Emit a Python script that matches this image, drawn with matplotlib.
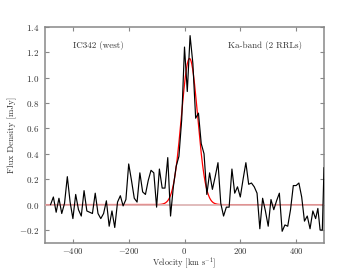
import numpy as np
import matplotlib
matplotlib.use("Agg")
import matplotlib.pyplot as plt

plt.rcParams['font.family'] = ['cmr10', 'DejaVu Serif']
plt.rcParams['mathtext.fontset'] = 'cm'
plt.rcParams['axes.formatter.use_mathtext'] = True
plt.rcParams['axes.unicode_minus'] = True

velocity = [-480, -470, -460, -450, -440, -430, -420, -410, -400, -390,
            -380, -370, -360, -350, -340, -330, -320, -310, -300, -290,
            -280, -270, -260, -250, -240, -230, -220, -210, -200, -190,
            -180, -170, -160, -150, -140, -130, -120, -110, -100, -90,
            -80, -70, -60, -50, -40, -30, -20, -10, 0, 10,
            20, 30, 40, 50, 60, 70, 80, 90, 100, 110,
            120, 130, 140, 150, 160, 170, 180, 190, 200, 210,
            220, 230, 240, 250, 260, 270, 280, 290, 300, 310,
            320, 330, 340, 350, 360, 370, 380, 390, 400, 410,
            420, 430, 440, 450, 460, 470, 478, 486, 494, 500]
flux = [0.00, 0.06, -0.06, 0.05, -0.07, 0.01, 0.22, 0.02, -0.11, 0.08,
        -0.04, -0.09, 0.11, -0.05, -0.06, -0.07, 0.09, -0.07, -0.11, -0.07,
        0.03, -0.17, -0.05, -0.18, 0.02, 0.07, -0.01, 0.04, 0.32, 0.19,
        0.05, 0.02, 0.25, 0.10, 0.08, 0.19, 0.27, 0.25, -0.02, 0.28,
        0.13, 0.13, 0.37, -0.09, 0.14, 0.30, 0.38, 0.67, 1.24, 0.89,
        1.33, 1.11, 0.68, 0.72, 0.48, 0.40, 0.08, 0.25, 0.12, 0.22,
        0.33, 0.01, -0.09, -0.02, -0.02, 0.28, 0.09, 0.14, 0.06, 0.20,
        0.33, 0.16, 0.17, 0.14, 0.09, -0.19, 0.05, -0.05, -0.17, 0.04,
        -0.04, 0.03, 0.09, -0.21, -0.16, -0.17, -0.04, 0.15, 0.15, 0.17,
        0.06, -0.13, -0.09, -0.19, -0.05, -0.11, -0.03, -0.20, -0.20, 0.29]

# Gaussian fit parameters (amplitude mJy, centre km/s, sigma km/s)
fit_amp = 1.15
fit_center = 18.0
fit_sigma = 29.0

x_ticks = [-400, -200, 0, 200, 400]
y_ticks = [-0.2, 0.0, 0.2, 0.4, 0.6, 0.8, 1.0, 1.2, 1.4]

fig = plt.figure(figsize=(3.6, 2.7), dpi=100)
ax = fig.add_axes([0.125, 0.101, 0.775, 0.800])

vfit = np.linspace(-500, 500, 1001)
model = fit_amp * np.exp(-(vfit - fit_center) ** 2 / (2 * fit_sigma ** 2))
ax.plot(vfit, model, color='red', lw=0.9, zorder=2)
ax.axhline(0.0, color='#dcb0b0', lw=1.2, zorder=3)
ax.plot(velocity, flux, color='black', lw=0.85, zorder=4)

ax.set_xlim(-500, 500)
ax.set_ylim(-0.3, 1.4)
ax.set_xticks(x_ticks)
ax.set_yticks(y_ticks)

for s in ax.spines.values():
    s.set_color('#888888')
    s.set_linewidth(1.1)
ax.tick_params(direction='in', top=True, right=True, length=3, width=0.8,
               color='#888888', labelsize=6.5, labelcolor='#333333', pad=4)
ax.tick_params(axis='x', pad=2.5, labelsize=6.3)

ax.set_xlabel(r'Velocity [km s$^{-1}$]', fontsize=6.0, color='#333333', labelpad=-0.5)
ax.set_ylabel('Flux Density [mJy]', fontsize=6.5, color='#333333', labelpad=2)

ax.text(-400, 1.25, 'IC342 (west)', fontsize=6.5, color='#333333', ha='left', va='center')
ax.text(421, 1.25, 'Ka-band (2 RRLs)', fontsize=6.5, color='#333333', ha='right', va='center')

fig.savefig('out.png', dpi=100)
